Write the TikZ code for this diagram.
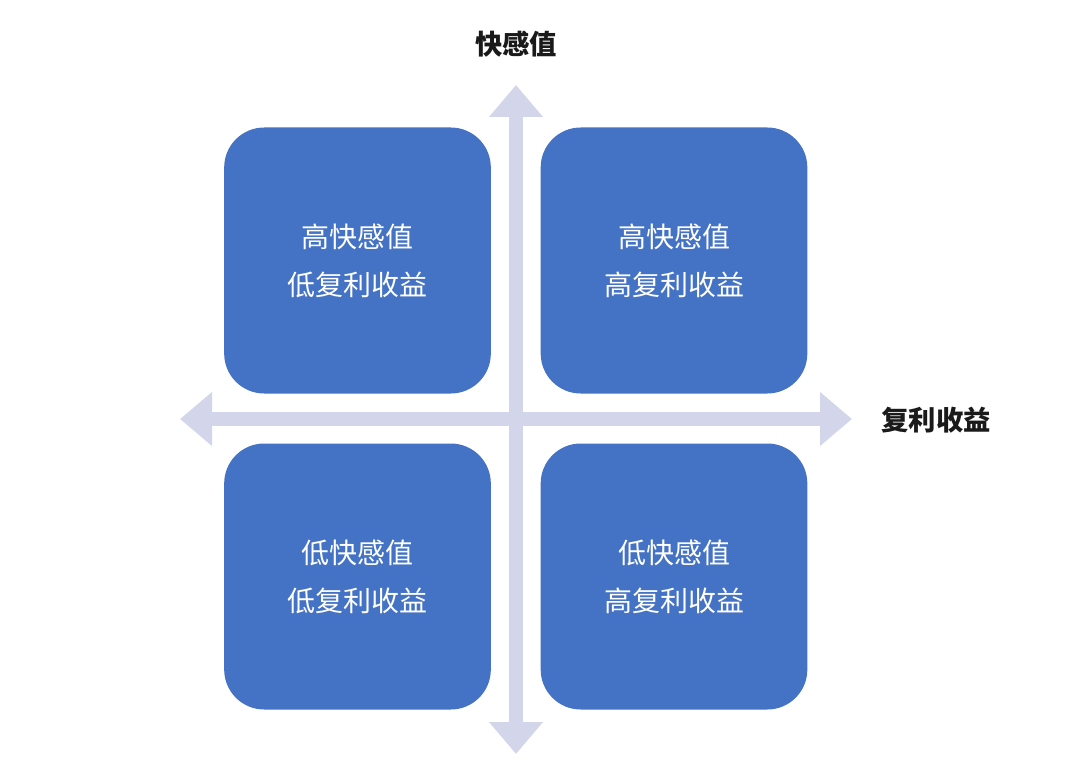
\documentclass[tikz,border=0pt]{standalone}
\usepackage{fontspec}
\newfontfamily\cjk{Noto Sans CJK SC}
\usetikzlibrary{arrows.meta}

\definecolor{quadblue}{HTML}{4472C4}
\definecolor{axisgray}{RGB}{211,214,235}
\definecolor{labelblack}{RGB}{26,26,26}

\tikzset{
  quad/.style={fill=quadblue, text=white, rounded corners=30pt,
    minimum width=200pt, minimum height=199.5pt, inner sep=0pt,
    align=center, font=\cjk\fontsize{21pt}{36pt}\selectfont},
  axis/.style={axisgray, line width=10.5pt,
    {Triangle[width=39pt,length=24pt]}-{Triangle[width=39pt,length=24pt]}},
  axislabel/.style={text=labelblack, font=\cjk\bfseries\fontsize{20.5pt}{24pt}\selectfont}
}

\begin{document}
\begin{tikzpicture}[x=0.75pt, y=-0.75pt]
\useasboundingbox (0,0) rectangle (1080,762);

% axes
\coordinate (west) at (180,419);
\coordinate (east) at (852,419);
\coordinate (north) at (516,85);
\coordinate (south) at (516,754);
\draw[axis] (west) -- (east);
\draw[axis] (south) -- (north);

\node[axislabel] (ylabel) at (516,44) {快感值};
\node[axislabel] (xlabel) at (936,420) {复利收益};

% quadrants
\node[quad] (hl) at (357.5,260.5) {高快感值\\低复利收益};
\node[quad] (hh) at (674,260.5) {高快感值\\高复利收益};
\node[quad] (ll) at (357.5,576.5) {低快感值\\低复利收益};
\node[quad] (lh) at (674,576.5) {低快感值\\高复利收益};

\end{tikzpicture}
\end{document}
